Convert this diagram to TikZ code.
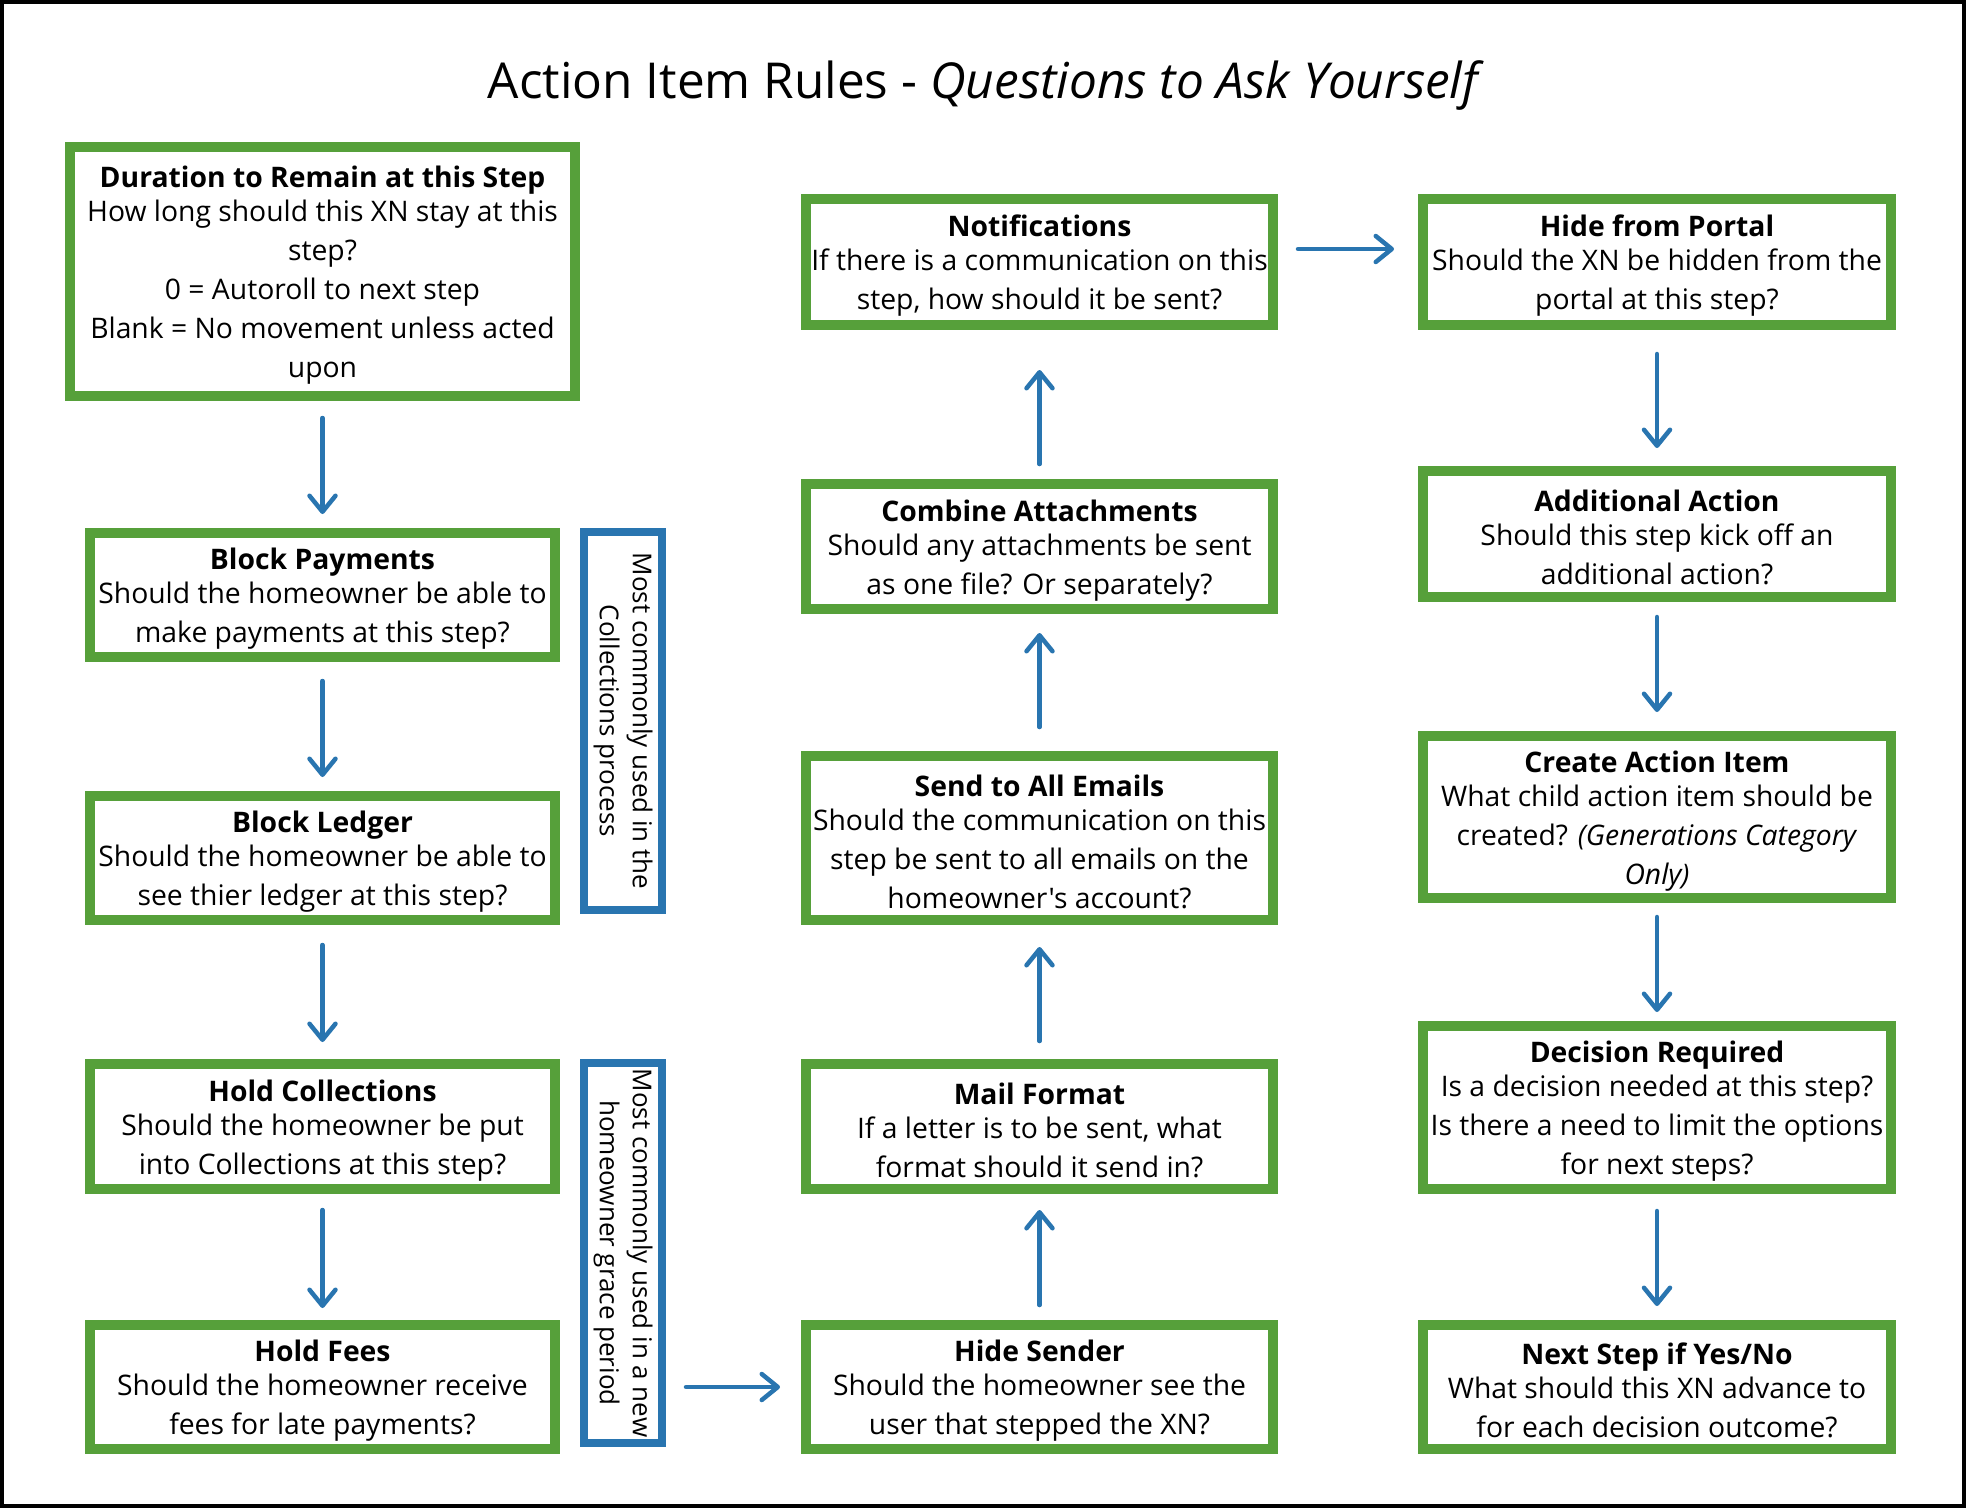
\documentclass[tikz,border=0pt]{standalone}
\usepackage{fontspec}
\setmainfont{Open Sans}[Ligatures=TeXOff]
\usetikzlibrary{arrows.meta}
\definecolor{boxgreen}{RGB}{86,160,58}
\definecolor{boxblue}{RGB}{41,117,176}
\newcommand{\boxhead}[1]{\rule{0pt}{29pt}\textbf{#1}}
\begin{document}
\begin{tikzpicture}[x=1pt,y=-1pt,
  gbox/.style={draw=boxgreen, line width=10pt, fill=white, align=center,
    inner sep=0pt, outer sep=0pt, font=\fontsize{28.3}{39}\selectfont},
  bbox/.style={draw=boxblue, line width=8pt, fill=white, align=center,
    inner sep=0pt, outer sep=0pt, rotate=-90, font=\fontsize{26}{33}\selectfont},
  arr/.style={draw=boxblue, line width=4.5pt, line cap=round,
    -{Straight Barb[length=16pt,width=26pt,line cap=round,line join=round]}},
  ttl/.style={font=\fontsize{49.5}{56}\selectfont, inner sep=0pt}
]
\useasboundingbox (0,0) rectangle (1966,1508);
\draw[line width=4pt] (2,2) rectangle (1964,1506);

\node[ttl] (title) at (986,86) {Action Item Rules - \textit{Questions to Ask Yourself}};

% column 1
\node[gbox, minimum width=505, minimum height=249] (dur) at (322.5,271.5)
 {\boxhead{Duration to Remain at this Step}\\[-5pt]How long should this XN stay at this\\step?\\0 = Autoroll to next step\\Blank = No movement unless acted\\upon};
\node[gbox, minimum width=465, minimum height=124] (bp) at (322.5,595)
 {\boxhead{Block Payments}\\[-5pt]Should the homeowner be able to\\make payments at this step?};
\node[gbox, minimum width=465, minimum height=124] (bl) at (322.5,858)
 {\boxhead{Block Ledger}\\[-5pt]Should the homeowner be able to\\see thier ledger at this step?};
\node[gbox, minimum width=465, minimum height=125] (hc) at (322.5,1126.5)
 {\boxhead{Hold Collections}\\[-5pt]Should the homeowner be put\\into Collections at this step?};
\node[gbox, minimum width=465, minimum height=124] (hf) at (322.5,1387)
 {\boxhead{Hold Fees}\\[-5pt]Should the homeowner receive\\fees for late payments?};

% blue notes
\node[bbox, minimum width=378, minimum height=78] (n1) at (623,721)
 {Most commonly used in the\\Collections process};
\node[bbox, minimum width=380, minimum height=78] (n2) at (623,1253)
 {Most commonly used in a new\\homeowner grace period};

% column 2
\node[gbox, minimum width=467, minimum height=126] (nt) at (1039.5,262)
 {\boxhead{Notifications}\\[-5pt]If there is a communication on this\\step, how should it be sent?};
\node[gbox, minimum width=467, minimum height=125] (ca) at (1039.5,546.5)
 {\boxhead{Combine Attachments}\\[-5pt]Should any attachments be sent\\as one file? Or separately?};
\node[gbox, minimum width=467, minimum height=164] (se) at (1039.5,838)
 {\boxhead{Send to All Emails}\\[-5pt]Should the communication on this\\step be sent to all emails on the\\homeowner's account?};
\node[gbox, minimum width=467, minimum height=125] (mf) at (1039.5,1126.5)
 {\boxhead{Mail Format}\\[-5pt]If a letter is to be sent, what\\format should it send in?};
\node[gbox, minimum width=467, minimum height=124] (hs) at (1039.5,1387)
 {\boxhead{Hide Sender}\\[-5pt]Should the homeowner see the\\user that stepped the XN?};

% column 3
\node[gbox, minimum width=468, minimum height=126] (hp) at (1657,262)
 {\boxhead{Hide from Portal}\\[-5pt]Should the XN be hidden from the\\portal at this step?};
\node[gbox, minimum width=468, minimum height=126] (aa) at (1657,534)
 {\boxhead{Additional Action}\\[-5pt]Should this step kick off an\\additional action?};
\node[gbox, minimum width=468, minimum height=162] (cr) at (1657,817)
 {\boxhead{Create Action Item}\\[-5pt]What child action item should be\\created? \textit{(Generations Category}\\\textit{Only)}};
\node[gbox, minimum width=468, minimum height=163] (dr) at (1657,1107.5)
 {\boxhead{Decision Required}\\[-5pt]Is a decision needed at this step?\\Is there a need to limit the options\\for next steps?};
\node[gbox, minimum width=468, minimum height=124] (ns) at (1657,1387)
 {\boxhead{Next Step if Yes/No}\\[-5pt]What should this XN advance to\\for each decision outcome?};

% arrows column 1
\draw[arr, shorten <=22pt, shorten >=19pt] (dur) -- (bp);
\draw[arr, shorten <=24pt, shorten >=19pt] (bp) -- (bl);
\draw[arr, shorten <=25pt, shorten >=22pt] (bl) -- (hc);
\draw[arr, shorten <=21pt, shorten >=17pt] (hc) -- (hf);
% bottom horizontal
\draw[arr, shorten <=131pt, shorten >=26pt] (hf) -- (hs);
% arrows column 2 (upwards)
\draw[arr, shorten <=20pt, shorten >=21pt] (hs) -- (mf);
\draw[arr, shorten <=23pt, shorten >=27pt] (mf) -- (se);
\draw[arr, shorten <=29pt, shorten >=24pt] (se) -- (ca);
\draw[arr, shorten <=20pt, shorten >=45pt] (ca) -- (nt);
% top horizontal
\draw[arr, shorten <=25pt, shorten >=29pt] ([yshift=13pt]nt.east) -- ([yshift=13pt]hp.west);
% arrows column 3
\draw[arr, shorten <=29pt, shorten >=23pt] (hp) -- (aa);
\draw[arr, shorten <=20pt, shorten >=24pt] (aa) -- (cr);
\draw[arr, shorten <=19pt, shorten >=14pt] (cr) -- (dr);
\draw[arr, shorten <=22pt, shorten >=19pt] (dr) -- (ns);
\end{tikzpicture}
\end{document}
